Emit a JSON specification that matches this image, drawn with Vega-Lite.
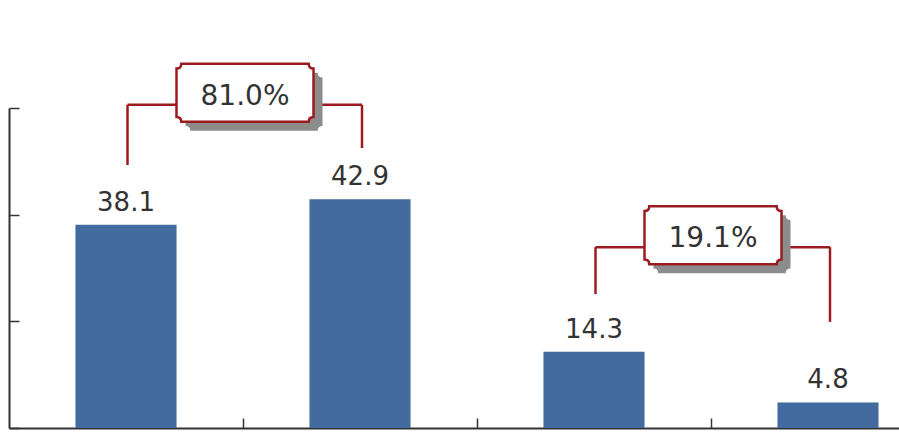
{
  "$schema": "https://vega.github.io/schema/vega-lite/v6.json",
  "width": 890,
  "height": 320,
  "autosize": {"type": "none"},
  "padding": {"left": 9, "top": 108, "right": 0, "bottom": 15},
  "background": "white",
  "config": {
    "view": {"stroke": null},
    "font": "DejaVu Sans"
  },
  "datasets": {
    "bars": [
      {"cat": "1", "value": 38.1},
      {"cat": "2", "value": 42.9},
      {"cat": "3", "value": 14.3},
      {"cat": "4", "value": 4.8}
    ],
    "brackets": [
      {"from": "1", "to": "2", "top": 60.6, "left": 49.3, "right": 52.5, "label": "81.0%"},
      {"from": "3", "to": "4", "top": 33.9, "left": 25.1, "right": 19.9, "label": "19.1%"}
    ]
  },
  "layer": [
    {
      "data": {"name": "bars"},
      "mark": {"type": "bar", "color": "#436B9F"},
      "encoding": {
        "x": {
          "field": "cat", "type": "nominal",
          "scale": {"range": [0, 936], "paddingInner": 0.568, "paddingOuter": 0.284},
          "axis": {"labels": false, "title": null, "domainColor": "#333333", "domainWidth": 2, "tickColor": "#333333", "tickWidth": 1.5, "tickSize": -10, "tickOffset": 117, "grid": false}
        },
        "y": {
          "field": "value", "type": "quantitative",
          "scale": {"domain": [0, 60], "nice": false},
          "axis": {"labels": false, "title": null, "values": [0, 20, 40, 60], "domainColor": "#333333", "domainWidth": 2, "tickColor": "#333333", "tickWidth": 1.5, "tickSize": -10, "grid": false}
        }
      }
    },
    {
      "data": {"name": "bars"},
      "mark": {"type": "text", "fontSize": 26, "color": "#333333", "baseline": "alphabetic", "dy": -14},
      "encoding": {
        "x": {"field": "cat", "type": "nominal"},
        "y": {"field": "value", "type": "quantitative"},
        "text": {"field": "value", "type": "quantitative", "format": ".1f"}
      }
    },
    {
      "data": {"name": "brackets"},
      "mark": {"type": "rule", "color": "#9B1C20", "strokeWidth": 2.5, "xOffset": 1.5},
      "encoding": {
        "x": {"field": "from", "type": "nominal"},
        "y": {"field": "left", "type": "quantitative"},
        "y2": {"field": "top"}
      }
    },
    {
      "data": {"name": "brackets"},
      "mark": {"type": "rule", "color": "#9B1C20", "strokeWidth": 2.5, "xOffset": 2},
      "encoding": {
        "x": {"field": "to", "type": "nominal"},
        "y": {"field": "right", "type": "quantitative"},
        "y2": {"field": "top"}
      }
    },
    {
      "data": {"name": "brackets"},
      "mark": {"type": "rule", "color": "#9B1C20", "strokeWidth": 2.5, "xOffset": 1.5, "x2Offset": 2},
      "encoding": {
        "x": {"field": "from", "type": "nominal"},
        "x2": {"field": "to"},
        "y": {"field": "top", "type": "quantitative"}
      }
    },
    {
      "data": {"name": "brackets"},
      "mark": {
        "type": "point", "filled": true, "fill": "#8C8C8C", "strokeWidth": 0, "opacity": 1,
        "size": 18769, "xOffset": 128, "yOffset": -3,
        "shape": "M -0.93 -0.423 L 0.93 -0.423 Q 0.93 -0.353 1 -0.353 L 1 0.353 Q 0.93 0.353 0.93 0.423 L -0.93 0.423 Q -0.93 0.353 -1 0.353 L -1 -0.353 Q -0.93 -0.353 -0.93 -0.423 Z"
      },
      "encoding": {
        "x": {"field": "from", "type": "nominal"},
        "y": {"field": "top", "type": "quantitative"}
      }
    },
    {
      "data": {"name": "brackets"},
      "mark": {
        "type": "point", "filled": true, "fill": "white", "stroke": "#9B1C20", "strokeWidth": 2.5, "opacity": 1,
        "size": 18769, "xOffset": 119, "yOffset": -12,
        "shape": "M -0.93 -0.423 L 0.93 -0.423 Q 0.93 -0.353 1 -0.353 L 1 0.353 Q 0.93 0.353 0.93 0.423 L -0.93 0.423 Q -0.93 0.353 -1 0.353 L -1 -0.353 Q -0.93 -0.353 -0.93 -0.423 Z"
      },
      "encoding": {
        "x": {"field": "from", "type": "nominal"},
        "y": {"field": "top", "type": "quantitative"}
      }
    },
    {
      "data": {"name": "brackets"},
      "mark": {"type": "text", "fontSize": 28, "color": "#333333", "baseline": "middle", "align": "center", "xOffset": 119, "yOffset": -8},
      "encoding": {
        "x": {"field": "from", "type": "nominal"},
        "y": {"field": "top", "type": "quantitative"},
        "text": {"field": "label", "type": "nominal"}
      }
    }
  ]
}
